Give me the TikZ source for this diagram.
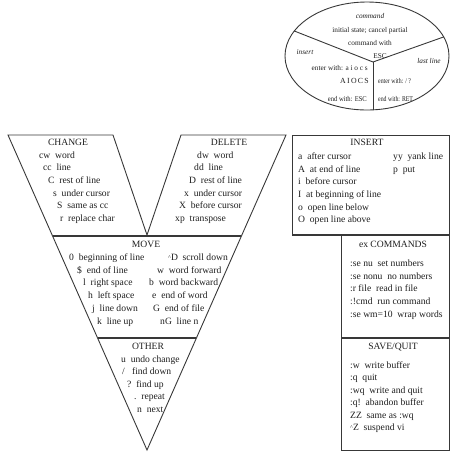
\documentclass[tikz,border=0pt]{standalone}
\usepackage{fontspec}
\setmainfont{Liberation Serif}
\usetikzlibrary{calc,shapes.geometric}
\definecolor{linec}{HTML}{383838}
\definecolor{textc}{HTML}{1E1E1E}
\newcommand{\ctrlkey}[1]{\raisebox{0.3ex}{\fontsize{6}{6}\selectfont\textasciicircum}#1}
\begin{document}
\begin{tikzpicture}[x=1pt,y=-1pt,
  ln/.style={draw=linec, line width=0.9pt, line join=miter},
  sepline/.style={draw=linec, line width=1.4pt},
  txt/.style={inner sep=0pt, text=textc, font=\fontsize{9.6}{11}\selectfont, text height=6.6pt, text depth=1.9pt, anchor=west},
  ttl/.style={txt, anchor=center},
  etxt/.style={inner sep=0pt, text=textc, font=\fontsize{7.3}{8.5}\selectfont, text height=5.1pt, text depth=1.5pt},
  eital/.style={etxt, font=\fontsize{7.3}{8.5}\selectfont\itshape},
  enarrow/.style={etxt, xscale=0.8},
]
\useasboundingbox (0,0) rectangle (452,451);

% ---------- V shape ----------
\coordinate (vTL) at (8,135);
\coordinate (vIL) at (113,135);
\coordinate (vApex) at (147,235);
\coordinate (vIR) at (181,135);
\coordinate (vTR) at (286,135);
\coordinate (vTip) at (147,450);
\draw[ln] (vTL) -- (vIL) -- (vApex) -- (vIR) -- (vTR) -- (vTip) -- cycle;
\draw[sepline] ($(vTL)!0.3206!(vTip)$) -- ($(vTR)!0.3206!(vTip)$);
\draw[sepline] ($(vTL)!0.6444!(vTip)$) -- ($(vTR)!0.6444!(vTip)$);

% ---------- right boxes ----------
\coordinate (insTL) at (292,135);
\coordinate (insBR) at (449,235);
\coordinate (exTL) at (341,235);
\coordinate (sqBR) at (449,450);
\draw[ln] (insTL) rectangle (insBR);
\draw[ln] (exTL) rectangle (sqBR);
\draw[sepline] (insTL |- insBR) -- (insBR);
\draw[sepline] (341,338) -- (449,338);

% ---------- ellipse ----------
\node[ellipse, draw=linec, line width=0.9pt, minimum width=164pt, minimum height=108pt, inner sep=0pt] (ell) at (367,56) {};
\coordinate (ej) at (373,62);
\draw[ln] (ell.161) -- (ej) -- (ell.14);
\draw[ln] (ej) -- (ej |- ell.south);

\node[eital] (e1) at (370,17) {command};
\node[etxt] (e2) at (370,31) {initial state; cancel partial};
\node[etxt] (e3) at (370,44) {command with};
\node[etxt] (e4) at (380,57) {ESC};
\node[eital] (e5) at (305,53) {insert};
\node[etxt, anchor=east] (e6) at (368,69) {enter with: a i o c s};
\node[etxt, anchor=east, font=\fontsize{7.8}{8.5}\selectfont] (e7) at (369,82) {A\,I\,O\,C\,S};
\node[etxt, anchor=east, xscale=0.9] (e8) at (367,100) {end with: ESC};
\node[eital] (e9) at (429,62) {last line};
\node[enarrow, anchor=west] (e10) at (378,82) {enter with: / ?};
\node[enarrow, anchor=west] (e11) at (378,100) {end with: RET};

% ---------- CHANGE ----------
\node[ttl] (ch0) at (68,143) {CHANGE};
\node[txt] (ch1) at (39,155.7) {cw~~word};
\node[txt] (ch2) at (43,168.4) {cc~~line};
\node[txt] (ch3) at (48,181.1) {C~~rest of line};
\node[txt] (ch4) at (53,193.8) {s~~under cursor};
\node[txt] (ch5) at (57,206.5) {S~~same as cc};
\node[txt] (ch6) at (60,219.2) {r~~replace char};

% ---------- DELETE ----------
\node[ttl] (de0) at (229,143) {DELETE};
\node[txt] (de1) at (197,155.7) {dw~~word};
\node[txt] (de2) at (194,168.4) {dd~~line};
\node[txt] (de3) at (189,181.1) {D~~rest of line};
\node[txt] (de4) at (184,193.8) {x~~under cursor};
\node[txt] (de5) at (179,206.5) {X~~before cursor};
\node[txt] (de6) at (175,219.2) {xp~~transpose};

% ---------- MOVE ----------
\node[ttl] (mv0) at (146,245) {MOVE};
\node[txt] (ml1) at (69,258) {0~~beginning of line};
\node[txt] (ml2) at (77,270.8) {\$~~end of line};
\node[txt] (ml3) at (83,283.6) {l~~right space};
\node[txt] (ml4) at (88,296.4) {h~~left space};
\node[txt] (ml5) at (92,309.2) {j~~line down};
\node[txt] (ml6) at (97,322) {k~~line up};
\node[txt] (mr1) at (168,258) {\ctrlkey{D}~~scroll down};
\node[txt] (mr2) at (157,270.8) {w~~word forward};
\node[txt] (mr3) at (149,283.6) {b~~word backward};
\node[txt] (mr4) at (152,296.4) {e~~end of word};
\node[txt] (mr5) at (153,309.2) {G~~end of file};
\node[txt] (mr6) at (160,322) {nG~~line n};

% ---------- OTHER ----------
\node[ttl] (ot0) at (148,347) {OTHER};
\node[txt] (ot1) at (121,360) {u~~undo change};
\node[txt] (ot2) at (122,372.5) {/~~~find down};
\node[txt] (ot3) at (127,385) {?~~find up};
\node[txt] (ot4) at (134,397.5) {.~~repeat};
\node[txt] (ot5) at (137,410) {n~~next};

% ---------- INSERT ----------
\node[ttl] (in0) at (367,143) {INSERT};
\node[txt] (il1) at (298,157) {a~~after cursor};
\node[txt] (il2) at (298,169.7) {A~~at end of line};
\node[txt] (il3) at (298,182.4) {i~~before cursor};
\node[txt] (il4) at (298,195.1) {I~~at beginning of line};
\node[txt] (il5) at (298,207.8) {o~~open line below};
\node[txt] (il6) at (298,220.5) {O~~open line above};
\node[txt] (ir1) at (393,157) {yy~~yank line};
\node[txt] (ir2) at (393,169.7) {p~~put};

% ---------- ex COMMANDS ----------
\node[ttl] (ex0) at (393,245) {ex COMMANDS};
\node[txt] (ex1) at (350,264) {:se nu~~set numbers};
\node[txt] (ex2) at (350,276.7) {:se nonu~~no numbers};
\node[txt] (ex3) at (350,289.4) {:r file~~read in file};
\node[txt] (ex4) at (350,302.1) {:!cmd~~run command};
\node[txt] (ex5) at (350,314.8) {:se wm=10~~wrap words};

% ---------- SAVE/QUIT ----------
\node[ttl] (sq0) at (393,347) {SAVE/QUIT};
\node[txt] (sq1) at (350,366) {:w~~write buffer};
\node[txt] (sq2) at (350,378.5) {:q~~quit};
\node[txt] (sq3) at (350,391) {:wq~~write and quit};
\node[txt] (sq4) at (350,403.5) {:q!~~abandon buffer};
\node[txt] (sq5) at (350,416) {ZZ~~same as :wq};
\node[txt] (sq6) at (350,428.5) {\ctrlkey{Z}~~suspend vi};
\end{tikzpicture}
\end{document}
